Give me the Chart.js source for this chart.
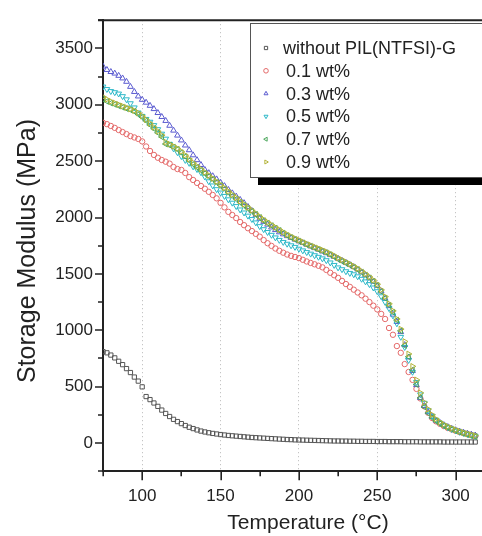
<!DOCTYPE html>
<html><head><meta charset="utf-8">
<script src="https://cdn.jsdelivr.net/npm/chart.js@4.4.1/dist/chart.umd.min.js"></script>
<style>
html,body{margin:0;padding:0;background:#fff;overflow:hidden;}
#wrap{width:482px;height:536px;overflow:hidden;position:relative;}
canvas{display:block;}
</style></head><body>
<div id="wrap"><canvas id="c" width="518" height="536"></canvas></div>
<script>
// Temperature (°C)
const temps = [75,77.5,80,82.5,85,87.5,90,92.5,95,97.5,
100,102.5,105,107.5,110,112.5,115,117.5,120,122.5,
125,127.5,130,132.5,135,137.5,140,142.5,145,147.5,
150,152.5,155,157.5,160,162.5,165,167.5,170,172.5,
175,177.5,180,182.5,185,187.5,190,192.5,195,197.5,
200,202.5,205,207.5,210,212.5,215,217.5,220,222.5,
225,227.5,230,232.5,235,237.5,240,242.5,245,247.5,
250,252.5,255,257.5,260,262.5,265,267.5,270,272.5,
275,277.5,280,282.5,285,287.5,290,292.5,295,297.5,
300,302.5,305,307.5,310,312.5];

const labels = ['without PIL(NTFSI)-G','0.1 wt%','0.3 wt%','0.5 wt%','0.7 wt%','0.9 wt%'];
const xTitle = 'Temperature (°C)';
const yTitle = 'Storage Modulus (MPa)';

const without = [810,800,780,755,725,695,660,625,585,549,
498,412,385,355,325,292,262,235,210,190,
172,155,140,128,116,106,98,91,85,80,
75,71,67,64,61,58,55,52,49,47,
45,43,41,39,37,35,33,31,30,28,
27,26,25,24,23,22,21,20,19,18,
18,17,17,16,16,15,15,14,14,14,
13,13,13,12,12,12,12,11,11,11,
11,10,10,10,10,10,10,9,9,9,
9,9,9,9,9,9];

const wt01 = [2840,2828,2812,2795,2776,2758,2740,2722,2710,2697,
2675,2630,2590,2555,2530,2510,2495,2478,2448,2430,
2422,2395,2358,2333,2307,2280,2255,2228,2200,2170,
2130,2090,2050,2022,1995,1960,1932,1905,1880,1855,
1830,1800,1772,1748,1725,1705,1688,1672,1660,1650,
1640,1625,1610,1597,1585,1572,1558,1535,1510,1488,
1465,1438,1410,1385,1360,1335,1310,1280,1250,1218,
1185,1145,1100,1020,960,860,800,700,630,560,
480,395,325,268,222,192,170,150,133,120,
108,97,87,78,70,62];

const wt03 = [3340,3310,3292,3278,3258,3235,3205,3160,3115,3075,
3045,3020,2992,2963,2928,2893,2858,2815,2772,2728,
2685,2640,2598,2553,2510,2467,2423,2395,2368,2340,
2310,2280,2246,2216,2187,2158,2129,2095,2060,2025,
1990,1963,1938,1913,1890,1870,1852,1836,1820,1805,
1790,1775,1760,1745,1730,1716,1700,1685,1668,1652,
1636,1618,1600,1582,1562,1540,1515,1490,1462,1432,
1395,1345,1282,1215,1140,1075,985,870,760,640,
515,400,330,275,235,200,180,160,143,128,
115,104,93,84,76,68];

const wt05 = [3160,3138,3120,3110,3098,3075,3047,3012,2975,2930,
2900,2873,2848,2818,2782,2742,2698,2652,2612,2578,
2543,2509,2483,2452,2428,2400,2362,2320,2283,2250,
2220,2190,2160,2130,2100,2070,2043,2015,1985,1955,
1922,1895,1870,1845,1822,1800,1782,1766,1752,1738,
1722,1707,1692,1678,1664,1650,1636,1620,1600,1578,
1556,1540,1522,1507,1495,1477,1455,1432,1408,1378,
1345,1300,1250,1195,1130,1060,940,850,735,630,
540,430,355,290,240,205,178,156,138,122,
110,98,88,79,71,63];

const wt07 = [3050,3030,3015,3003,2990,2978,2966,2955,2940,2915,
2890,2858,2822,2788,2752,2715,2652,2642,2625,2605,
2575,2540,2505,2472,2445,2418,2392,2365,2340,2312,
2285,2255,2220,2192,2165,2135,2108,2080,2055,2028,
2000,1972,1950,1928,1906,1885,1862,1840,1822,1805,
1790,1775,1758,1745,1730,1716,1702,1688,1670,1650,
1630,1612,1595,1577,1558,1538,1515,1490,1465,1435,
1398,1345,1285,1222,1160,1090,995,865,765,650,
520,400,320,265,225,195,172,152,136,122,
108,96,85,74,64,56];

const wt09 = [3070,3048,3030,3016,3002,2988,2975,2962,2948,2928,
2900,2868,2835,2800,2765,2730,2668,2650,2632,2612,
2585,2552,2518,2485,2455,2428,2400,2373,2346,2318,
2290,2262,2232,2202,2175,2145,2117,2090,2063,2036,
2008,1982,1958,1935,1913,1892,1870,1850,1832,1815,
1800,1784,1768,1754,1740,1726,1712,1697,1680,1662,
1642,1624,1606,1588,1568,1548,1525,1500,1474,1444,
1408,1358,1298,1235,1172,1100,1010,900,790,680,
560,445,360,300,250,212,185,163,146,131,
117,104,93,83,74,66];

const xMajor = [100,150,200,250,300];
const xMinor = [75,125,175,225,275,325];
const yMajor = [0,500,1000,1500,2000,2500,3000,3500];
const yMinor = [-250,250,750,1250,1750,2250,2750,3250,3750];

const seriesValues = [without, wt01, wt03, wt05, wt07, wt09];
const colors = ['#555555','#e46a6a','#5b5bd0','#2cb8c8','#4aa65a','#b4b43a'];
const styles = ['rect','circle','triangle','triangle','triangle','triangle'];
const rotations = [0,0,0,180,270,90];
const radii = [3,2.7,3.3,3.3,3.3,3.3];

const FONT = "'Liberation Sans', Arial, sans-serif";
Chart.defaults.font.family = FONT;
Chart.defaults.color = '#222';

const datasets = seriesValues.map((vals,i)=>({
  label: labels[i],
  data: temps.map((t,j)=>({x:t, y:vals[j]})),
  pointStyle: styles[i],
  rotation: rotations[i],
  pointRadius: radii[i],
  pointBorderWidth: 1,
  borderColor: colors[i],
  backgroundColor: 'rgba(0,0,0,0)',
  showLine: false,
  order: 5 - i
}));

const axisTicks = {
  id:'axisTicks',
  afterDraw(chart){
    const {ctx, chartArea:a, scales:{x,y}} = chart;
    ctx.save();
    ctx.strokeStyle = '#222';
    ctx.lineWidth = 2;
    ctx.beginPath(); ctx.moveTo(a.left-5, a.top); ctx.lineTo(chart.width, a.top); ctx.stroke();
    ctx.lineWidth = 1.6;
    ctx.beginPath();
    xMajor.forEach(v=>{const p=Math.round(x.getPixelForValue(v))+0.2; ctx.moveTo(p,a.bottom); ctx.lineTo(p,a.bottom+9);});
    xMinor.forEach(v=>{const p=Math.round(x.getPixelForValue(v))+0.2; ctx.moveTo(p,a.bottom); ctx.lineTo(p,a.bottom+5);});
    yMajor.forEach(v=>{const p=Math.round(y.getPixelForValue(v)); ctx.moveTo(a.left,p); ctx.lineTo(a.left-8,p);});
    yMinor.forEach(v=>{const p=Math.round(y.getPixelForValue(v)); ctx.moveTo(a.left,p); ctx.lineTo(a.left-5,p);});
    ctx.stroke();
    // y axis title
    ctx.translate(28, 251);
    ctx.rotate(-Math.PI/2);
    ctx.font = "25px " + FONT;
    ctx.fillStyle = '#222';
    ctx.textAlign = 'center';
    ctx.textBaseline = 'middle';
    ctx.fillText(yTitle, 0, 0);
    ctx.restore();
  }
};

const boxLegend = {
  id:'boxLegend',
  afterDatasetsDraw(chart){
    const ctx = chart.ctx;
    ctx.save();
    const L=250, T=23, W=300, H=154;
    ctx.fillStyle='#000'; ctx.fillRect(L+8, T+8, W, H);
    ctx.fillStyle='#fff'; ctx.fillRect(L, T, W, H);
    ctx.strokeStyle='#555'; ctx.lineWidth=1; ctx.strokeRect(L+0.5, T+0.5, W, H);
    ctx.font = "18px " + FONT;
    ctx.textBaseline='middle';
    chart.data.datasets.forEach((ds,i)=>{
      const yy = T + 26 + i*22.8;
      ctx.strokeStyle = ds.borderColor; ctx.fillStyle='rgba(0,0,0,0)'; ctx.lineWidth=1;
      Chart.helpers.drawPoint(ctx, {pointStyle: ds.pointStyle, rotation: ds.rotation, radius: 2.3, borderWidth: 1}, 266, yy-1);
      ctx.fillStyle='#222';
      ctx.fillText(ds.label, i===0?283:286, yy);
    });
    ctx.restore();
  }
};

new Chart(document.getElementById('c'), {
  type:'scatter',
  data:{datasets},
  options:{
    responsive:false, animation:false, devicePixelRatio:1,
    layout:{padding:{top:15.2,left:0,right:0,bottom:0}},
    plugins:{legend:{display:false}, tooltip:{enabled:false}},
    scales:{
      x:{
        type:'linear', min:75, max:336.6,
        afterBuildTicks(s){ s.ticks = xMajor.map(v=>({value:v})); },
        afterFit(s){ s.height = 64.8; },
        grid:{drawTicks:false, color:'#b8b8b8', lineWidth:1},
        border:{color:'#222', width:2, dash:[1,3]},
        ticks:{padding:15, font:{size:17}, color:'#222', maxRotation:0, callback:v=>String(v)},
        title:{display:true, text:xTitle, font:{size:21}, padding:0, color:'#222'}
      },
      y:{
        type:'linear', min:-250, max:3750,
        afterBuildTicks(s){ s.ticks = yMajor.map(v=>({value:v})); },
        afterFit(s){ s.width = 103; },
        grid:{display:false, drawTicks:false},
        border:{color:'#222', width:2},
        ticks:{padding:10, font:{size:17}, color:'#222', callback:v=>String(v)},
        title:{display:false}
      }
    }
  },
  plugins:[boxLegend, axisTicks]
});
</script>
</body></html>
